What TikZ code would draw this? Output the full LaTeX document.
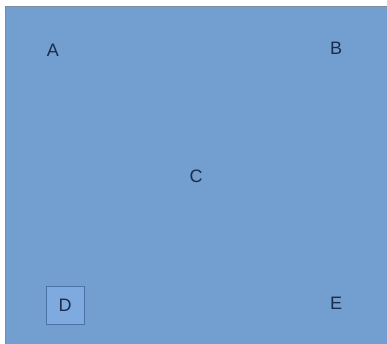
\documentclass[tikz,border=0pt]{standalone}
\usepackage{fontspec}
\setmainfont{Liberation Sans}
\definecolor{bgblue}{HTML}{729FCF}
\definecolor{edgegray}{HTML}{7F8CA0}
\definecolor{txt}{HTML}{1C2B4A}
\definecolor{dfill}{HTML}{7EAAE0}
\definecolor{dedge}{HTML}{4A72A8}
\begin{document}
\begin{tikzpicture}[x=1pt,y=-1pt,
  lbl/.style={text=txt,font=\fontsize{18}{20}\selectfont,inner sep=0pt},
  dbox/.style={draw=dedge,fill=dfill,line width=0.8pt,minimum width=38pt,minimum height=38pt,inner sep=0pt,text=txt,font=\fontsize{18}{20}\selectfont}]
\useasboundingbox (0,0) rectangle (387,344);
\fill[white] (0,0) rectangle (387,344);
\begin{scope}
\clip (0,0) rectangle (387,344);
\draw[edgegray,fill=bgblue,line width=1pt] (5,7) rectangle (400,360);
\end{scope}
\node[lbl] (A) at (53,50) {A};
\node[lbl] (B) at (336,48) {B};
\node[lbl] (C) at (196,176) {C};
\node[dbox] (D) at (65,305) {D};
\node[lbl] (E) at (336,303) {E};
\end{tikzpicture}
\end{document}
